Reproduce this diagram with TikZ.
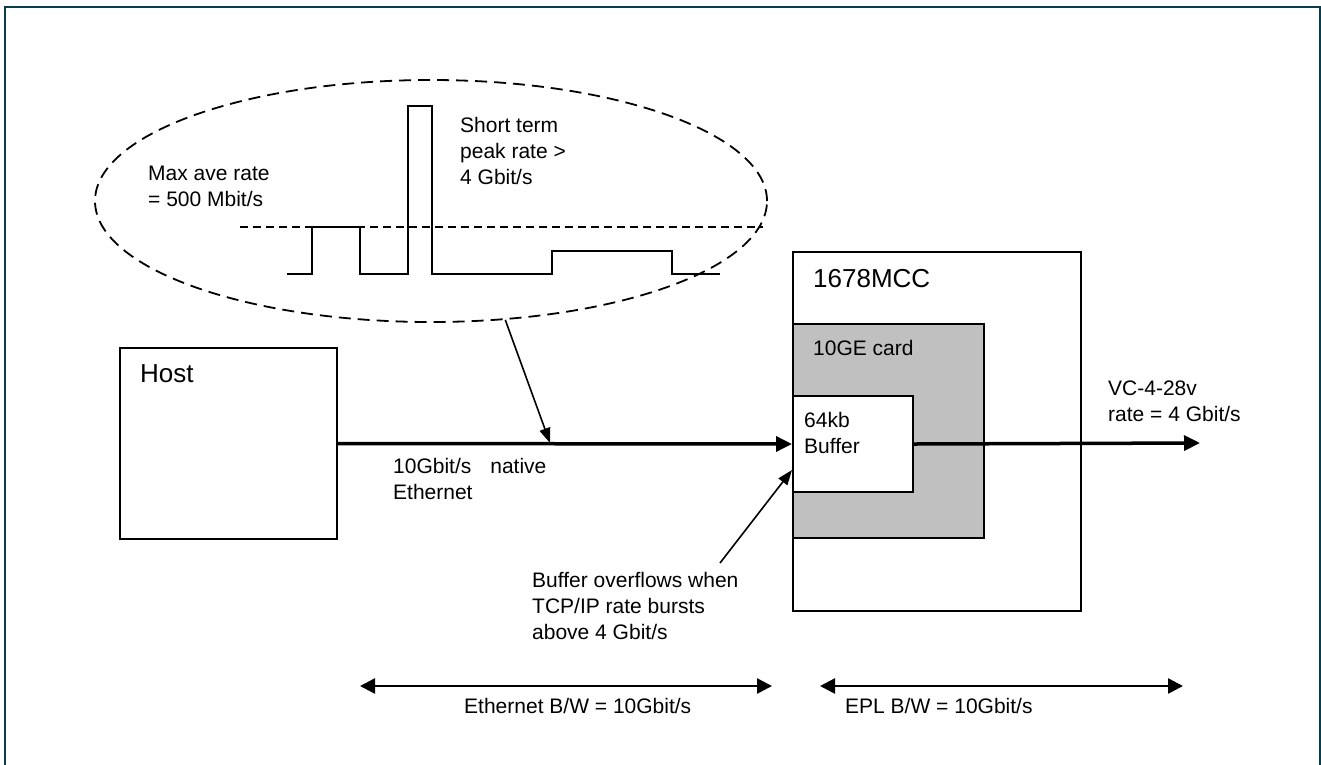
\documentclass[tikz,border=0pt]{standalone}
\usepackage{fontspec}
\setmainfont{Liberation Sans}
\usetikzlibrary{arrows.meta,shapes.geometric}
\definecolor{framecol}{HTML}{0B3C49}
\definecolor{cardgray}{HTML}{C0C0C0}
\begin{document}
\begin{tikzpicture}[x=1pt,y=-1pt,
  box/.style={draw=black,line width=2pt,inner sep=0pt,anchor=north west},
  lbl/.style={anchor=base west,inner sep=0pt,align=left,font=\fontsize{21}{26}\selectfont},
  title/.style={anchor=base west,inner sep=0pt,font=\fontsize{26}{31}\selectfont},
  bigarrow/.style={line width=3.5pt,-{Triangle[length=16pt,width=15pt]}},
  ptr/.style={line width=1.6pt,-{Triangle[length=15pt,width=11pt]}},
  dbl/.style={line width=2.5pt,{Triangle[length=15pt,width=15pt]}-{Triangle[length=15pt,width=15pt]}},
  dash1/.style={line width=1.8pt,dash pattern=on 12pt off 7pt},
  dash2/.style={line width=1.6pt,dash pattern=on 8pt off 5pt},
]
\useasboundingbox (0,0) rectangle (1321,764);
\draw[framecol,line width=2pt] (5,770) -- (5,7) -- (1320,7) -- (1320,770);

% burst ellipse
\node[ellipse,draw,dash1,minimum width=672pt,minimum height=242pt,inner sep=0pt] (ell) at (431,201) {};
\draw[dash2] (240,227) -- (763,227);
\draw[line width=1.8pt] (287,274) -- (312,274) -- (312,227) -- (360,227) -- (360,274) -- (408,274) -- (408,106) -- (432,106) -- (432,274) -- (552,274) -- (552,251) -- (672,251) -- (672,274) -- (720,274);
\node[lbl] (maxave) at (148,206) {Max ave rate\\= 500 Mbit/s};
\node[lbl] (peak) at (460,184) {Short term\\peak rate >\\4 Gbit/s};

% host
\node[box,minimum width=217pt,minimum height=191pt] (host) at (119,347) {};
\node[title] (hostlbl) at (140,382) {Host};

% 1678MCC
\node[box,fill=white,minimum width=288pt,minimum height=359pt] (mcc) at (792,251) {};
\node[title] (mcclbl) at (813,287) {1678MCC};
\node[box,fill=cardgray,minimum width=191pt,minimum height=214pt] (card) at (792,323) {};
\node[lbl] (cardlbl) at (813,355) {10GE card};
\node[box,fill=white,minimum width=120pt,minimum height=96pt] (buf) at (792,395) {};
\node[lbl] (buflbl) at (804,453) {64kb\\Buffer};

% main link
\draw[bigarrow] (host.east) -- (buf.west);
\coordinate (out) at (1200,443);
\draw[bigarrow] (buf.east) -- (out);
\node[lbl] (linklbl) at (393,499) {10Gbit/s\hspace{19pt}native\\Ethernet};
\node[lbl] (vclbl) at (1108,421) {VC-4-28v\\rate = 4 Gbit/s};

% pointers
\coordinate (hit) at (550,443);
\draw[ptr] (ell.-58) -- (hit);
\coordinate (ovf) at (720,563);
\draw[ptr] (ovf) -- (buf.west |- 0,470);
\node[lbl] (ovflbl) at (532,639) {Buffer overflows when\\TCP/IP rate bursts\\above 4 Gbit/s};

% bandwidth spans
\coordinate (e1) at (360,686);
\coordinate (e2) at (772,686);
\draw[dbl] (e1) -- (e2);
\node[lbl] (ethbw) at (464,713) {Ethernet B/W = 10Gbit/s};
\coordinate (p1) at (820,686);
\coordinate (p2) at (1183,686);
\draw[dbl] (p1) -- (p2);
\node[lbl] (eplbw) at (845,713) {EPL B/W = 10Gbit/s};
\end{tikzpicture}
\end{document}
